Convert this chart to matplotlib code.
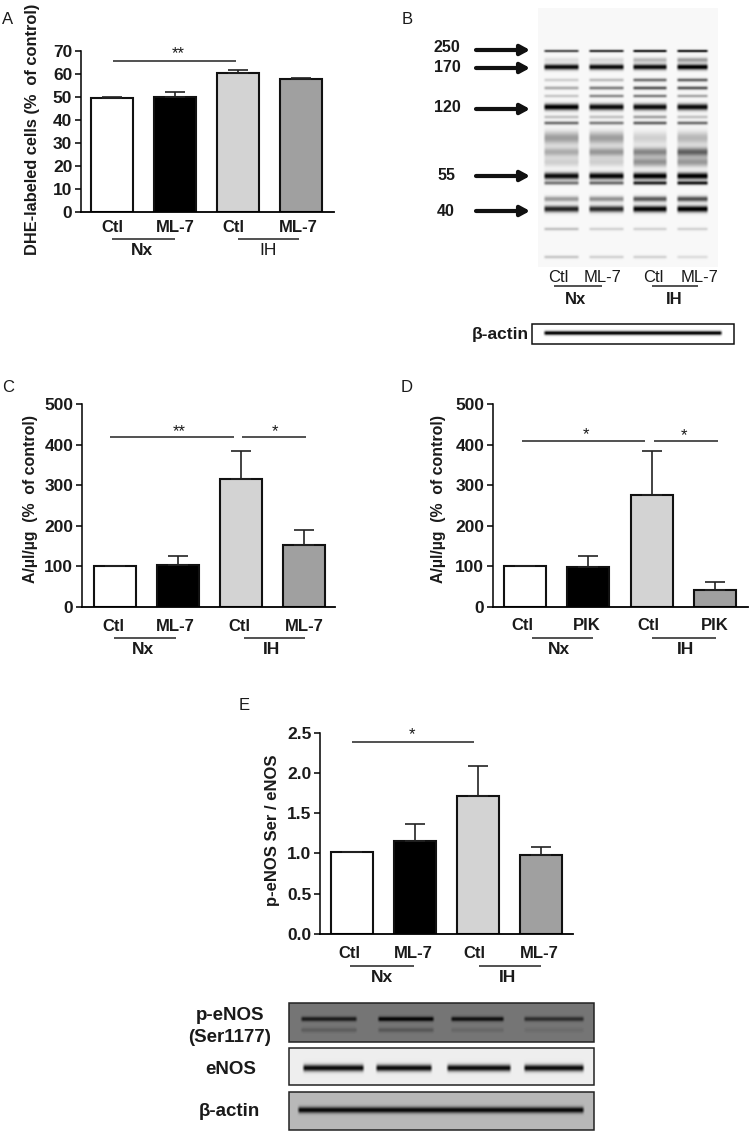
import numpy as np
import matplotlib
matplotlib.use('Agg')
import matplotlib.pyplot as plt

plt.rcParams['font.family'] = ['Liberation Sans', 'DejaVu Sans']

W, H = 750, 1132
colors = ['white', 'black', '#d3d3d3', '#a0a0a0']

# bar values and upper error
a_vals = [49.5, 50.0, 60.5, 57.7]
a_errs = [0.5, 2.2, 1.3, 0.5]
c_vals = [100, 103, 315, 152]
c_errs = [0, 21, 70, 38]
d_vals = [100, 97, 275, 42]
d_errs = [0, 27, 110, 19]
e_vals = [1.01, 1.15, 1.71, 0.98]
e_errs = [0, 0.21, 0.37, 0.10]

a_ticks = [0, 10, 20, 30, 40, 50, 60, 70]
c_ticks = [0, 100, 200, 300, 400, 500]
e_ticks = [0.0, 0.5, 1.0, 1.5, 2.0, 2.5]

# western blot B: row, spread, darkness in each of the four lanes
b_lanes = [(543, 580), (588, 625), (632, 668), (676, 709)]
b_bands = [
    (51, 1.0, [0.65, 0.75, 0.85, 0.85]),
    (60, 1.8, [0.10, 0.12, 0.25, 0.35]),
    (67, 2.0, [0.95, 0.95, 0.95, 1.00]),
    (80, 1.3, [0.15, 0.22, 0.50, 0.55]),
    (88, 1.3, [0.28, 0.45, 0.60, 0.60]),
    (96, 1.2, [0.18, 0.40, 0.45, 0.30]),
    (107, 2.3, [1.00, 0.95, 0.95, 0.95]),
    (117, 1.3, [0.20, 0.20, 0.32, 0.20]),
    (123, 1.3, [0.50, 0.45, 0.55, 0.50]),
    (138, 4.5, [0.36, 0.36, 0.16, 0.26]),
    (152, 3.2, [0.30, 0.38, 0.45, 0.60]),
    (162, 3.4, [0.16, 0.16, 0.40, 0.38]),
    (176, 2.4, [0.95, 0.98, 1.00, 1.00]),
    (183, 1.4, [0.48, 0.52, 0.80, 0.85]),
    (199, 2.0, [0.36, 0.40, 0.62, 0.66]),
    (209, 2.3, [0.85, 0.82, 0.98, 1.00]),
    (229, 1.2, [0.20, 0.14, 0.14, 0.14]),
    (257, 1.2, [0.18, 0.14, 0.14, 0.10]),
]

# lower blots: lanes of p-eNOS and eNOS
pe_lanes = [(300, 358), (377, 435), (450, 505), (523, 585)]
pe_main = [0.75, 0.95, 0.85, 0.60]
pe_faint = [0.20, 0.25, 0.12, 0.08]
en_lanes = [(302, 365), (375, 433), (446, 512), (523, 585)]
en_main = [0.95, 0.95, 0.95, 0.95]


def px_axes(left, right, top, bottom):
    return fig.add_axes([left / W, 1 - bottom / H, (right - left) / W, (bottom - top) / H])


def panel(vals, errs, ticks, left, right, y0, ytop, c0, dc, ticklabels, bar_w):
    ax = px_axes(left, right, ytop, y0)
    ax.patch.set_alpha(0)
    ax.bar(range(4), vals, width=bar_w / dc, color=colors, edgecolor='#111111', linewidth=1.5)
    ax.errorbar(range(4), vals, yerr=[[0] * 4, errs], fmt='none', ecolor='#222222',
                elinewidth=1.2, capsize=7.2, capthick=1.2)
    ax.set_xlim((left - c0) / dc, (right - c0) / dc)
    ax.set_ylim(ticks[0], ticks[-1])
    ax.set_xticks([])
    ax.set_yticks(ticks)
    ax.set_yticklabels(ticklabels, fontsize=12.5, fontweight='bold', color='#1a1a1a')
    ax.tick_params(axis='y', length=4.3, width=1.1, pad=2)
    ax.spines['top'].set_visible(False)
    ax.spines['right'].set_visible(False)
    ax.spines['left'].set_linewidth(1.1)
    ax.spines['bottom'].set_linewidth(1.3)
    return ax


def blot(ov, box, bg, bands):
    # bands: (y, sigma, x0, x1, darkness)
    x0, x1, y0, y1 = box
    xx, yy = np.meshgrid(np.arange(x0, x1) + 0.5, np.arange(y0, y1) + 0.5)
    dark = np.zeros(xx.shape)
    for y, s, bx0, bx1, d in bands:
        edge = np.clip((xx - bx0) / 3.0, 0, 1) * np.clip((bx1 - xx) / 3.0, 0, 1)
        dark += d * edge * np.exp(-(yy - y) ** 2 / (2.0 * s ** 2))
    img = np.clip(bg * (1 - dark), 0, 1)
    ov.imshow(img, cmap='gray', vmin=0, vmax=1, extent=(x0, x1, y1, y0), aspect='auto',
              interpolation='bilinear', zorder=1)


def txt(ov, x, y, s, size=12, weight='bold', rotation=0, color='#1a1a1a'):
    ov.text(x, y, s, fontsize=size, fontweight=weight, rotation=rotation, ha='center',
            va='center', color=color, zorder=5)


def rule(ov, x0, x1, y, lw=1.1):
    ov.plot([x0, x1], [y, y], color='#222222', lw=lw, solid_capstyle='butt', zorder=5)


fig = plt.figure(figsize=(W / 100, H / 100), dpi=100)

panel(a_vals, a_errs, a_ticks, 81, 334, 212, 51, 112, 63, [str(t) for t in a_ticks], 42)
panel(c_vals, c_errs, c_ticks, 82, 335, 606.7, 404, 114.5, 63.2, [str(t) for t in c_ticks], 42)
panel(d_vals, d_errs, c_ticks, 493, 748, 606.7, 404, 525, 63.4, [str(t) for t in c_ticks], 42)
panel(e_vals, e_errs, e_ticks, 320, 573, 933.7, 732.7, 352, 63, ['%.1f' % t for t in e_ticks], 42)

# overlay in picture pixels for blots and annotation
ov = fig.add_axes([0, 0, 1, 1])
ov.axis('off')

# panel letters
for s, x, y in [('A', 8, 20), ('B', 407, 20), ('C', 8, 388), ('D', 407, 388), ('E', 244, 706)]:
    txt(ov, x, y, s, size=12, weight='normal')

# y axis titles
txt(ov, 33, 129, 'DHE-labeled cells (%  of control)', size=11.8, rotation=90)
txt(ov, 31, 499, 'A/µl/µg  (%  of control)', size=11.4, rotation=90)
txt(ov, 439, 499, 'A/µl/µg  (%  of control)', size=11.4, rotation=90)
txt(ov, 273, 830, 'p-eNOS Ser / eNOS', size=12, rotation=90)

# group labels under the bars
for labs, xs, y in [
    (['Ctl', 'ML-7', 'Ctl', 'ML-7'], [112, 175, 233, 298], 227),
    (['Ctl', 'ML-7', 'Ctl', 'ML-7'], [113, 175, 239, 304], 626.5),
    (['Ctl', 'PIK', 'Ctl', 'PIK'], [522, 587, 648, 715], 625.5),
    (['Ctl', 'ML-7', 'Ctl', 'ML-7'], [349, 413, 474, 539], 954),
]:
    for s, x in zip(labs, xs):
        txt(ov, x, y, s)

for x0, x1, xn, x2, x3, xi, yl, yt in [
    (112, 175, 142, 238, 299, 268, 238.7, 250.5),
    (114, 176, 143, 244, 305, 272, 638, 649),
    (532, 593, 559, 652, 716, 685, 638, 649),
    (350, 414, 382, 479, 541, 508, 966, 977),
]:
    rule(ov, x0, x1, yl)
    rule(ov, x2, x3, yl)
    txt(ov, xn, yt, 'Nx', size=12.5)
    txt(ov, xi, yt, 'IH', size=12.5, weight='normal' if yl == 238.7 else 'bold')

# significance lines
for x0, x1, y, s, xs, ys in [
    (113, 236, 61, '**', 178, 54),
    (110, 234, 437.3, '**', 179, 432),
    (242, 306, 437.3, '*', 275, 432),
    (522, 645, 441, '*', 586, 435),
    (654, 718, 441, '*', 684, 436),
    (352, 474, 741.7, '*', 412, 735),
]:
    rule(ov, x0, x1, y)
    txt(ov, xs, ys, s, size=12, weight='normal')

# blot B
bands = []
for y, s, ds in b_bands:
    for (l0, l1), d in zip(b_lanes, ds):
        bands.append((y, s, l0, l1, d))
blot(ov, (538, 718, 8, 267), 0.97, bands)

for s, y, tx in [('250', 48, 447), ('170', 68, 447), ('120', 108, 447), ('55', 176, 446), ('40', 211, 446)]:
    txt(ov, tx, y, s, size=11.5)
for y in [50, 68, 109, 176, 211]:
    ov.annotate('', xy=(530, y), xytext=(476, y), zorder=5,
                arrowprops=dict(arrowstyle='-|>,head_length=0.55,head_width=0.3', color='#111111',
                                lw=3, shrinkA=0, shrinkB=0))

for s, x in zip(['Ctl', 'ML-7', 'Ctl', 'ML-7'], [558, 603, 653, 700]):
    txt(ov, x, 277, s, size=12, weight='normal')
rule(ov, 554, 602, 286)
rule(ov, 652, 698, 286)
txt(ov, 576, 299, 'Nx', size=12)
txt(ov, 674, 299, 'IH', size=12)

txt(ov, 500, 335, 'β-actin', size=12.5)
blot(ov, (532, 734, 324, 344), 1.0, [(333, 1.5, 543, 723, 0.98)])
ov.add_patch(plt.Rectangle((532, 324), 202, 20, fill=False, ec='#111111', lw=1.1, zorder=4))

# lower blots
txt(ov, 230, 1016, 'p-eNOS', size=13.5)
txt(ov, 230, 1038, '(Ser1177)', size=13.5)
txt(ov, 231, 1070, 'eNOS', size=13.5)
txt(ov, 229, 1111, 'β-actin', size=13.5)

bands = []
for (l0, l1), d, f in zip(pe_lanes, pe_main, pe_faint):
    bands.append((1019, 1.7, l0, l1, d))
    bands.append((1030, 1.7, l0, l1, f))
blot(ov, (289, 594, 1003, 1042), 0.46, bands)

bands = []
for (l0, l1), d in zip(en_lanes, en_main):
    bands.append((1068, 2.4, l0, l1, d))
blot(ov, (289, 594, 1048, 1085), 0.93, bands)

blot(ov, (289, 594, 1092, 1130), 0.72, [(1110, 2.2, 297, 585, 0.95)])

for y0, y1 in [(1003, 1042), (1048, 1085), (1092, 1130)]:
    ov.add_patch(plt.Rectangle((289, y0), 305, y1 - y0, fill=False, ec='#222222', lw=1.1, zorder=4))

ov.set_xlim(0, W)
ov.set_ylim(H, 0)

fig.savefig('out.png', dpi=100)
